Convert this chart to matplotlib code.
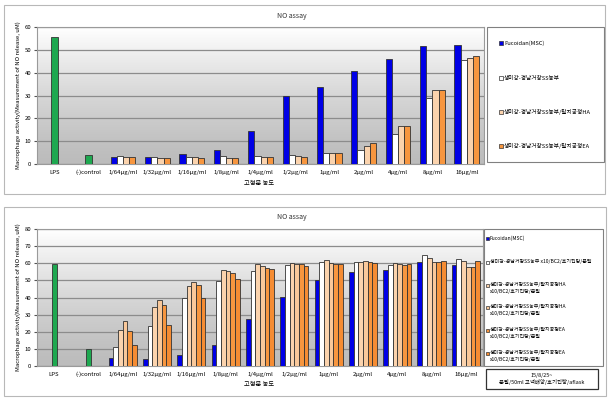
import numpy as np
import matplotlib
matplotlib.use("Agg")
import matplotlib.pyplot as plt
from matplotlib.patches import Rectangle

plt.rcParams['font.family'] = ['Noto Sans CJK KR', 'DejaVu Sans']

# ---- data ----
categories = ["LPS", "(-)control", "1/64μg/ml", "1/32μg/ml", "1/16μg/ml", "1/8μg/ml",
              "1/4μg/ml", "1/2μg/ml", "1μg/ml", "2μg/ml", "4μg/ml", "8μg/ml", "16μg/ml"]

# top chart
top_controls = [55.5, 3.8]
top_fucoidan = [3.0, 3.2, 4.2, 6.2, 14.5, 30.0, 33.8, 40.7, 46.0, 51.8, 52.3]
top_ss = [3.5, 3.0, 3.0, 3.5, 3.5, 4.0, 4.8, 6.1, 13.0, 28.8, 45.4]
top_ha = [3.2, 2.8, 3.0, 2.8, 3.2, 3.5, 5.0, 7.9, 16.5, 32.5, 46.3]
top_ea = [3.0, 2.5, 2.7, 2.8, 3.0, 3.2, 5.0, 9.1, 16.8, 32.5, 47.3]
top_labels = ["Fucoidan(MSC)", "생미강-경남거창SS농부",
              "생미강-경남거창SS농부/탈지공정HA", "생미강-경남거창SS농부/탈지공정EA"]

# bottom chart
bot_controls = [59.3, 9.8]
bot_fucoidan = [4.7, 4.3, 6.2, 12.5, 27.7, 40.5, 50.0, 55.0, 56.1, 61.0, 58.7]
bot_ss = [11.0, 23.4, 39.6, 49.7, 55.3, 58.7, 61.0, 60.5, 58.7, 64.9, 62.4]
bot_ha1 = [21.0, 34.5, 47.0, 56.1, 59.5, 60.0, 61.8, 61.0, 60.4, 63.0, 61.6]
bot_ha2 = [26.3, 38.6, 49.0, 55.5, 58.2, 59.6, 60.0, 61.4, 59.3, 60.8, 57.7]
bot_ea1 = [20.5, 35.7, 47.3, 54.2, 57.5, 59.5, 59.6, 60.5, 58.9, 60.6, 57.9]
bot_ea2 = [12.5, 24.0, 39.6, 50.6, 56.6, 58.3, 59.6, 60.2, 59.6, 61.2, 61.2]
bot_labels = ["Fucoidan(MSC)",
              "생미강-경남거창SS농부 x10/BC2/호기진탕/분말",
              "생미강-경남거창SS농부/탈지공정HA\nx10/BC2/호기진탕/분말",
              "생미강-경남거창SS농부/탈지공정HA\nx10/BC2/호기진탕/분말",
              "생미강-경남거창SS농부/탈지공정EA\nx10/BC2/호기진탕/분말",
              "생미강-경남거창SS농부/탈지공정EA\nx10/BC2/호기진탕/분말"]

blue = "#0000e6"
green = "#1ea850"
white = "#ffffff"
peach = "#fbd3ad"
peach2 = "#f9c89a"
orange = "#f7963f"
orange2 = "#f58c33"
edge = "#333333"

W, H = 613, 401
fig = plt.figure(figsize=(W / 100, H / 100), dpi=100)


def frac(x0, y0, x1, y1):
    return [x0 / W, 1 - y1 / H, (x1 - x0) / W, (y1 - y0) / H]


def panel(x0, y0, x1, y1):
    fig.patches.append(Rectangle((x0 / W, 1 - y1 / H), (x1 - x0) / W, (y1 - y0) / H,
                                 transform=fig.transFigure, fill=False,
                                 edgecolor="#b8b8b8", lw=0.8))


def draw_chart(box, ymax, controls, series, colors, width, green_w, title_y, xlab_y):
    ax = fig.add_axes(frac(*box))
    grad = np.linspace(1, 0, 256) ** 1.3
    grad = np.vstack([grad, grad]).T
    ax.imshow(grad, extent=[0, 1, 0, 1], transform=ax.transAxes, aspect="auto",
              cmap=matplotlib.colors.LinearSegmentedColormap.from_list(
                  "g", ["#bcbcbc", "#ffffff"]), vmin=0, vmax=1, zorder=0)
    x = np.arange(len(categories))
    ax.bar(x[:2], controls, width=green_w, color=green, edgecolor=edge, lw=0.6, zorder=3)
    n = len(series)
    xs = x[2:]
    for i, (vals, c) in enumerate(zip(series, colors)):
        off = (i - (n - 1) / 2) * width
        ax.bar(xs + off, vals, width=width, color=c, edgecolor=edge, lw=0.6, zorder=3)
    ax.set_xlim(-0.5, len(categories) - 0.5)
    ax.set_ylim(0, ymax)
    ax.set_yticks(np.arange(0, ymax + 1, 10))
    ax.yaxis.grid(True, color="#8c8c8c", lw=0.9, zorder=1)
    ax.set_axisbelow(True)
    ax.set_xticks(x)
    ax.set_xticklabels(categories, fontsize=4.3)
    ax.tick_params(axis="x", length=0, pad=4)
    ax.tick_params(axis="y", labelsize=4.3, length=2, pad=2, color="#555555")
    for s in ax.spines.values():
        s.set_color("#9a9a9a")
        s.set_linewidth(0.8)
    ax.set_ylabel("Macrophage activity(Measurement of NO release, uM)", fontsize=4.3, labelpad=3)
    fig.text(292 / W, 1 - title_y / H, "NO assay", fontsize=5, ha="center", va="center",
             color="#333333")
    fig.text(259 / W, 1 - xlab_y / H, "고형분 농도", fontsize=4.5, ha="center", va="center")
    return ax


# top
panel(4, 5, 605, 194)
draw_chart((37, 27, 484, 164), 60, top_controls,
           [top_fucoidan, top_ss, top_ha, top_ea], [blue, white, peach, orange],
           0.18, 0.2, 16, 183)
lx0, ly0, lx1, ly1 = 487, 27, 604, 162
fig.patches.append(Rectangle((lx0 / W, 1 - ly1 / H), (lx1 - lx0) / W, (ly1 - ly0) / H,
                             transform=fig.transFigure, fill=False, edgecolor="#808080", lw=0.8))
for lab, c, yy in zip(top_labels, [blue, white, peach, orange], [43, 78, 112, 146]):
    fig.patches.append(Rectangle((499 / W, 1 - (yy + 2) / H), 4 / W, 4 / H,
                                 transform=fig.transFigure, facecolor=c, edgecolor=edge, lw=0.5))
    fig.text(504 / W, 1 - yy / H, lab, fontsize=4.1, va="center", ha="left")

# bottom
panel(4, 207, 606, 396)
draw_chart((37, 229, 483, 366), 80, bot_controls,
           [bot_fucoidan, bot_ss, bot_ha1, bot_ha2, bot_ea1, bot_ea2],
           [blue, white, peach, peach2, orange, orange2],
           0.137, 0.15, 217, 384)
lx0, ly0, lx1, ly1 = 484, 229, 603, 366
fig.patches.append(Rectangle((lx0 / W, 1 - ly1 / H), (lx1 - lx0) / W, (ly1 - ly0) / H,
                             transform=fig.transFigure, fill=False, edgecolor="#808080", lw=0.8))
for lab, c, yy in zip(bot_labels, [blue, white, peach, peach2, orange, orange2],
                      [238, 262, 285, 307, 330, 353]):
    ty = yy if "\n" not in lab else yy + 3
    fig.patches.append(Rectangle((486 / W, 1 - (yy + 1.5) / H), 3 / W, 3 / H,
                                 transform=fig.transFigure, facecolor=c, edgecolor=edge, lw=0.5))
    fig.text(490 / W, 1 - ty / H, lab, fontsize=3.6, va="center", ha="left", linespacing=1.4)

ax0, ay0, ax1, ay1 = 486, 369, 598, 389
fig.patches.append(Rectangle((ax0 / W, 1 - ay1 / H), (ax1 - ax0) / W, (ay1 - ay0) / H,
                             transform=fig.transFigure, fill=False, edgecolor="#333333", lw=0.9))
fig.text(542 / W, 1 - 379 / H, "15/8/25~\n분말/50ml 고액배양/호기진탕/aflask",
         fontsize=3.9, ha="center", va="center", linespacing=1.2)

fig.savefig("out.png", dpi=100)
